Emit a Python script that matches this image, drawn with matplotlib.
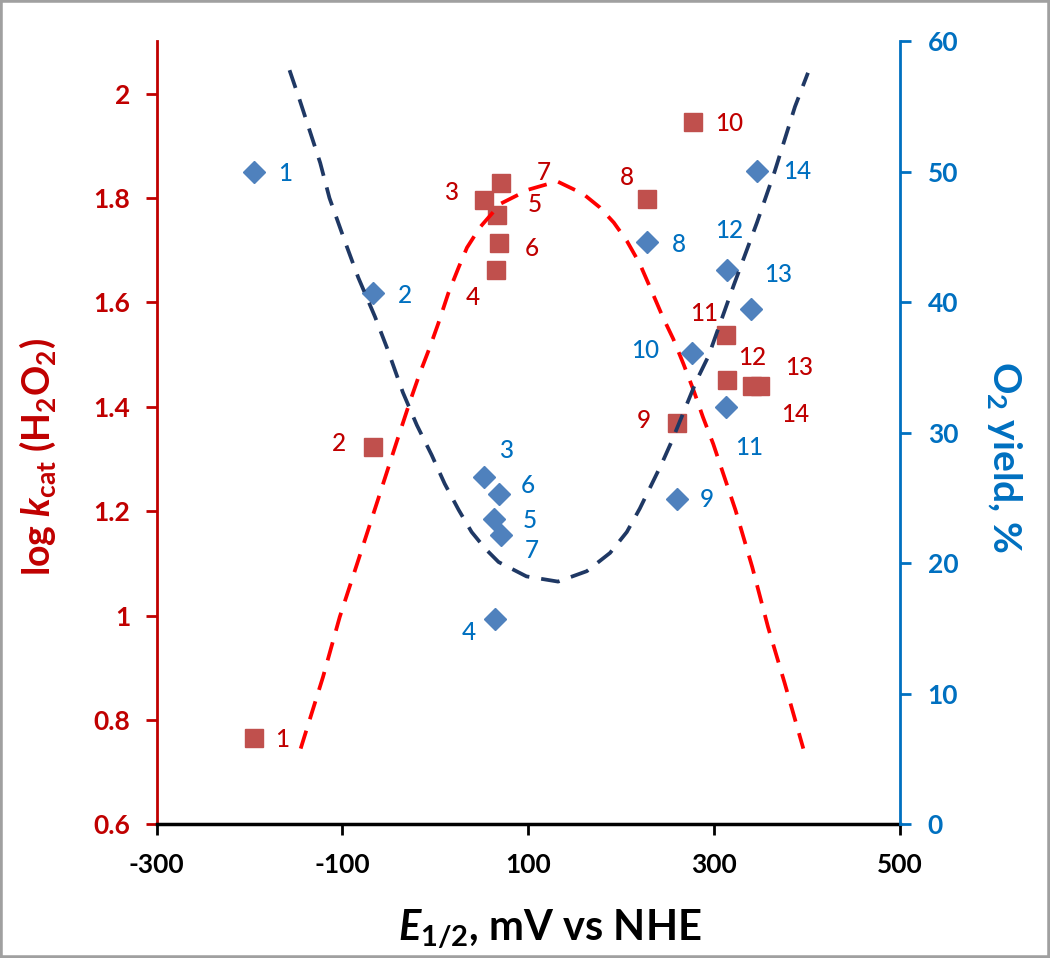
import numpy as np
import matplotlib.pyplot as plt
from matplotlib.ticker import FuncFormatter
from matplotlib.patches import Rectangle

plt.rcParams['font.family'] = ['Lato', 'DejaVu Sans']
plt.rcParams['mathtext.fontset'] = 'custom'
plt.rcParams['mathtext.rm'] = 'Lato:bold'
plt.rcParams['mathtext.it'] = 'Lato:italic:bold'
plt.rcParams['mathtext.bf'] = 'Lato:bold'
plt.rcParams['axes.unicode_minus'] = False

# compound numbers
ids = ['1', '2', '3', '4', '5', '6', '7', '8', '9', '10', '11', '12', '13', '14']
# E1/2 (mV vs NHE)
e_half = [-195, -67, 52, 65, 66, 68, 71, 228, 260, 277, 313, 314, 341, 349]
# log kcat (H2O2), left axis
log_kcat = [0.765, 1.323, 1.797, 1.662, 1.768, 1.714, 1.828, 1.799, 1.369, 1.945,
            1.538, 1.452, 1.440, 1.440]
# O2 yield (%), right axis; x positions of the diamonds
e_half_o2 = [-195, -67, 52, 64, 63, 68, 71, 228, 260, 276, 313, 314, 340, 346]
o2_yield = [50.0, 40.7, 26.6, 15.7, 23.4, 25.3, 22.2, 44.6, 24.9, 36.1, 32.0, 42.5,
            39.5, 50.1]

# dashed trend curves
red_x = [-145, -121, -103, -83, -62, -42, -27, -17, -6, 3, 14, 25, 34, 48, 70, 100,
         131, 159, 177, 192, 206, 220, 231, 245, 256, 267, 278, 288, 299, 323, 341,
         358, 376, 396]
red_y = [0.745, 0.882, 0.997, 1.106, 1.221, 1.331, 1.412, 1.463, 1.514, 1.559, 1.618,
         1.667, 1.705, 1.744, 1.789, 1.816, 1.832, 1.808, 1.782, 1.753, 1.718, 1.674,
         1.629, 1.571, 1.530, 1.482, 1.431, 1.380, 1.329, 1.202, 1.093, 0.978, 0.870,
         0.745]
blue_x = [-157, -146, -124, -114, -97, -83, -65, -52, -35, -20, -4, 10, 25, 39, 54,
          68, 98, 132, 163, 188, 206, 220, 231, 244, 254, 281, 294, 306, 321, 333,
          346, 365, 376, 387, 401]
blue_y = [57.8, 55.5, 50.7, 48.0, 44.6, 41.9, 38.9, 36.5, 33.1, 30.6, 28.3, 26.1,
          24.1, 22.4, 21.1, 20.1, 19.0, 18.6, 19.4, 20.8, 22.4, 24.2, 25.8, 27.7,
          29.3, 34.0, 35.9, 38.3, 41.3, 43.6, 46.1, 50.0, 52.5, 55.0, 57.6]

# label offsets in pixels
red_off = [(28, -1), (-34, 3), (-33, 7), (-23, -27), (38, 10), (33, -6), (42, 11),
           (-20, 21), (-33, 2), (36, -1), (-22, 21), (25, 22), (47, 18), (35, -29)]
blue_off = [(31, -2), (32, -2), (22, 27), (-26, -13), (36, -2), (29, 9), (30, -16),
            (32, -2), (30, 0), (-47, 3), (23, -41), (2, 39), (27, 34), (40, -1)]

RED = '#C00000'
BLUE = '#0070C0'

fig = plt.figure(figsize=(10.5, 9.58), dpi=100)
ax1 = fig.add_axes([0.1492, 0.1396, 0.7079, 0.8171])
ax2 = ax1.twinx()

ax1.plot(e_half, log_kcat, 's', color='#C0504D', ms=13, zorder=3)
ax1.plot(red_x, red_y, color='#FF0000', lw=2.7, dashes=(5, 3.2), zorder=4)
ax2.plot(e_half_o2, o2_yield, 'D', color='#4F81BD', ms=11, zorder=3)
ax2.plot(blue_x, blue_y, color='#1F3864', lw=2.7, dashes=(5, 3.2), zorder=4)

for i, lab in enumerate(ids):
    ax1.annotate(lab, (e_half[i], log_kcat[i]), xytext=red_off[i],
                 textcoords='offset pixels', ha='center', va='center',
                 color=RED, fontsize=17.5, fontweight='medium')
    ax2.annotate(lab, (e_half_o2[i], o2_yield[i]), xytext=blue_off[i],
                 textcoords='offset pixels', ha='center', va='center',
                 color=BLUE, fontsize=17.5, fontweight='medium')

ax1.set_xlim(-300, 500)
ax1.set_xticks([-300, -100, 100, 300, 500])
ax1.set_ylim(0.6, 2.1)
ax1.set_yticks(np.arange(0.6, 2.01, 0.2))
ax1.yaxis.set_major_formatter(FuncFormatter(lambda v, p: '{:g}'.format(round(v, 1))))
ax2.set_ylim(0, 60)
ax2.set_yticks(range(0, 61, 10))

for ax in (ax1, ax2):
    ax.spines['top'].set_visible(False)
ax1.spines['right'].set_visible(False)
ax2.spines['left'].set_visible(False)
ax2.spines['bottom'].set_visible(False)
ax1.spines['left'].set_color(RED)
ax1.spines['left'].set_linewidth(2)
ax1.spines['bottom'].set_linewidth(2.5)
ax2.spines['right'].set_color(BLUE)
ax2.spines['right'].set_linewidth(2)

ax1.tick_params(axis='y', colors=RED, length=8, width=2, pad=11, labelsize=19)
ax1.tick_params(axis='x', length=8, width=2, pad=13, labelsize=19)
ax2.tick_params(axis='y', colors=BLUE, length=8, width=2, pad=12, labelsize=19)
for t in ax1.get_xticklabels() + ax1.get_yticklabels() + ax2.get_yticklabels():
    t.set_fontweight('bold')

fig.text(0.036, 0.523, r'log $k_{\rm cat}$ (H$_2$O$_2$)', rotation=90, ha='center',
         va='center', color=RED, fontsize=27, fontweight='bold')
fig.text(0.957, 0.523, r'O$_2$ yield, %', rotation=270, ha='center', va='center',
         color=BLUE, fontsize=28, fontweight='bold')
fig.text(0.524, 0.0188, r'$E_{1/2}$, mV vs NHE', ha='center', va='baseline',
         color='black', fontsize=30, fontweight='bold')

fig.patches.append(Rectangle((0, 0), 1, 1, transform=fig.transFigure, fill=False,
                             edgecolor='#A0A0A0', lw=4))

fig.savefig('out.png', dpi=100)
